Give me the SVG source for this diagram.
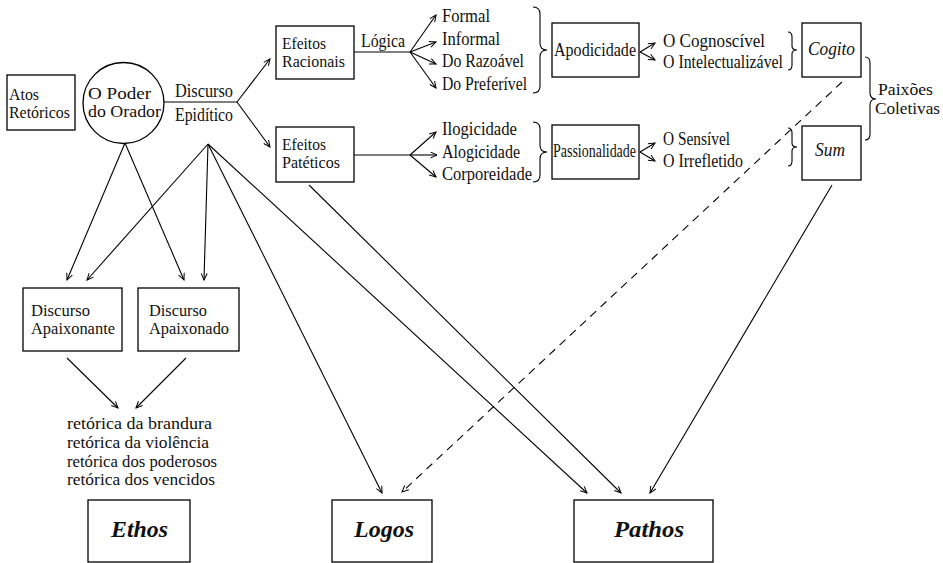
<svg xmlns="http://www.w3.org/2000/svg" width="943" height="563" viewBox="0 0 943 563">
<style>
.box{fill:none;stroke:#000;stroke-width:1.3}
.ln{fill:none;stroke:#000;stroke-width:1.1;marker-end:url(#ah)}
.pl{fill:none;stroke:#000;stroke-width:1.1}
.br{fill:none;stroke:#000;stroke-width:1.1}
.t{font-family:"Liberation Serif","Times New Roman",serif;font-size:18px;fill:#111}
.s{font-size:16px}
.m{font-size:16.5px}
.i{font-style:italic}
.big{font-size:24px;font-weight:bold;font-style:italic}
</style>
<defs>
<marker id="ah" markerUnits="userSpaceOnUse" markerWidth="10" markerHeight="10" refX="7" refY="3.5" orient="auto">
<path d="M0.5,0.5 L7,3.5 L0.5,6.5" fill="none" stroke="#000" stroke-width="1"/>
</marker>
</defs>
<rect width="943" height="563" fill="#fff"/>

<g id="connectors">
<path class="pl" d="M164,102 L237,102"/>
<path class="ln" d="M237,102 L270,59"/>
<path class="ln" d="M237,102 L270,147"/>
<path class="pl" d="M354,52 L410,52"/>
<path class="ln" d="M410,52 L436,15"/>
<path class="ln" d="M410,52 L436,42"/>
<path class="ln" d="M410,52 L436,64"/>
<path class="ln" d="M410,52 L436,88"/>
<path class="pl" d="M354,155 L410,155"/>
<path class="ln" d="M410,155 L436,132"/>
<path class="ln" d="M410,155 L437,155"/>
<path class="ln" d="M410,155 L436,177"/>
<path class="ln" d="M640,52 L655,43"/>
<path class="ln" d="M640,52 L655,60"/>
<path class="ln" d="M640,152 L655,143"/>
<path class="ln" d="M640,152 L655,161"/>
<path class="ln" d="M125,143 L67,280"/>
<path class="ln" d="M125,143 L184,280"/>
<path class="ln" d="M208,144 L87,280"/>
<path class="ln" d="M208,144 L204,280"/>
<path class="ln" d="M208,144 L382,493"/>
<path class="ln" d="M208,144 L587,493"/>
<path class="ln" d="M309,185 L621,493"/>
<path class="ln" d="M832,185 L650,493"/>
<path class="ln" d="M842,82 L402,492" stroke-dasharray="8,6"/>
<path class="ln" d="M67,358 L118,408"/>
<path class="ln" d="M186,358 L136,408"/>
<path class="br" d="M533,7 Q540,7 540,14 L540,43 Q540,50 547,50 Q540,50 540,57 L540,86 Q540,93 533,93"/>
<path class="br" d="M533,122 Q540,122 540,129 L540,145 Q540,152 547,152 Q540,152 540,159 L540,175 Q540,182 533,182"/>
<path class="br" d="M788,32 Q792,32 792,37 L792,46 Q792,50 797,50 Q792,50 792,54 L792,65 Q792,70 788,70"/>
<path class="br" d="M788,128 Q792,128 792,133 L792,143 Q792,147 797,147 Q792,147 792,151 L792,161 Q792,166 788,166"/>
<path class="br" d="M865,57 Q870,57 870,63 L870,93 Q870,99 876,99 Q870,99 870,105 L870,134 Q870,140 865,140"/>
</g>

<g id="atos">
<rect class="box" x="7" y="75" width="68" height="55"/>
<text class="t s" x="9" y="100" textLength="30" lengthAdjust="spacingAndGlyphs">Atos</text>
<text class="t s" x="9" y="118" textLength="61" lengthAdjust="spacingAndGlyphs">Retóricos</text>
</g>
<g id="poder">
<circle cx="123.5" cy="103" r="40.5" fill="none" stroke="#000" stroke-width="1.3"/>
<text class="t s" x="88" y="99" textLength="63" lengthAdjust="spacingAndGlyphs">O Poder</text>
<text class="t s" x="88" y="117" textLength="73" lengthAdjust="spacingAndGlyphs">do Orador</text>
</g>
<g id="epiditico">
<text class="t" x="175" y="97" textLength="58" lengthAdjust="spacingAndGlyphs">Discurso</text>
<text class="t" x="175" y="121" textLength="58" lengthAdjust="spacingAndGlyphs">Epidítico</text>
</g>
<g id="racionais">
<rect class="box" x="276" y="26" width="78" height="53"/>
<text class="t s" x="282" y="49" textLength="44" lengthAdjust="spacingAndGlyphs">Efeitos</text>
<text class="t s" x="282" y="67" textLength="63" lengthAdjust="spacingAndGlyphs">Racionais</text>
</g>
<g id="logica">
<text class="t" x="361" y="47" textLength="44" lengthAdjust="spacingAndGlyphs">Lógica</text>
<text class="t" x="442" y="22" textLength="48" lengthAdjust="spacingAndGlyphs">Formal</text>
<text class="t" x="442" y="45" textLength="58" lengthAdjust="spacingAndGlyphs">Informal</text>
<text class="t" x="442" y="67" textLength="82" lengthAdjust="spacingAndGlyphs">Do Razoável</text>
<text class="t" x="442" y="90" textLength="85" lengthAdjust="spacingAndGlyphs">Do Preferível</text>
</g>
<g id="pateticos">
<rect class="box" x="276" y="127" width="78" height="55"/>
<text class="t s" x="282" y="150" textLength="44" lengthAdjust="spacingAndGlyphs">Efeitos</text>
<text class="t s" x="282" y="168" textLength="58" lengthAdjust="spacingAndGlyphs">Patéticos</text>
</g>
<g id="logicidade">
<text class="t" x="442" y="135" textLength="75" lengthAdjust="spacingAndGlyphs">Ilogicidade</text>
<text class="t" x="442" y="158" textLength="78" lengthAdjust="spacingAndGlyphs">Alogicidade</text>
<text class="t" x="442" y="180" textLength="90" lengthAdjust="spacingAndGlyphs">Corporeidade</text>
</g>
<g id="apodicidade">
<rect class="box" x="552" y="23" width="87" height="54"/>
<text class="t" x="554" y="56" textLength="82" lengthAdjust="spacingAndGlyphs">Apodicidade</text>
</g>
<g id="cognoscivel">
<text class="t" x="663" y="47" textLength="102" lengthAdjust="spacingAndGlyphs">O Cognoscível</text>
<text class="t" x="663" y="68" textLength="120" lengthAdjust="spacingAndGlyphs">O Intelectualizável</text>
</g>
<g id="cogito">
<rect class="box" x="802" y="23" width="59" height="54"/>
<text class="t i" x="808" y="55" textLength="47" lengthAdjust="spacingAndGlyphs">Cogito</text>
</g>
<g id="passionalidade">
<rect class="box" x="552" y="125" width="87" height="54"/>
<text class="t" x="553" y="157" font-size="17" textLength="83" lengthAdjust="spacingAndGlyphs">Passionalidade</text>
</g>
<g id="sensivel">
<text class="t" x="663" y="145" textLength="67" lengthAdjust="spacingAndGlyphs">O Sensível</text>
<text class="t" x="663" y="167" textLength="80" lengthAdjust="spacingAndGlyphs">O Irrefletido</text>
</g>
<g id="sum">
<rect class="box" x="802" y="126" width="59" height="54"/>
<text class="t i" x="815" y="156" textLength="30" lengthAdjust="spacingAndGlyphs">Sum</text>
</g>
<g id="paixoes">
<text class="t m" x="878" y="95" textLength="55" lengthAdjust="spacingAndGlyphs">Paixões</text>
<text class="t m" x="875" y="114" textLength="65" lengthAdjust="spacingAndGlyphs">Coletivas</text>
</g>
<g id="apaixonante">
<rect class="box" x="23" y="288" width="99" height="63"/>
<text class="t s" x="31" y="316" textLength="59" lengthAdjust="spacingAndGlyphs">Discurso</text>
<text class="t s" x="31" y="334" textLength="84" lengthAdjust="spacingAndGlyphs">Apaixonante</text>
</g>
<g id="apaixonado">
<rect class="box" x="138" y="288" width="101" height="63"/>
<text class="t s" x="149" y="316" textLength="58" lengthAdjust="spacingAndGlyphs">Discurso</text>
<text class="t s" x="149" y="334" textLength="80" lengthAdjust="spacingAndGlyphs">Apaixonado</text>
</g>
<g id="retoricas">
<text class="t m" x="67" y="429" textLength="145" lengthAdjust="spacingAndGlyphs">retórica da brandura</text>
<text class="t m" x="67" y="448" textLength="142" lengthAdjust="spacingAndGlyphs">retórica da violência</text>
<text class="t m" x="67" y="466.5" textLength="150" lengthAdjust="spacingAndGlyphs">retórica dos poderosos</text>
<text class="t m" x="67" y="485" textLength="148" lengthAdjust="spacingAndGlyphs">retórica dos vencidos</text>
</g>
<g id="ethos">
<rect class="box" x="88" y="500" width="102" height="62"/>
<text class="t big" x="111" y="537" textLength="57" lengthAdjust="spacingAndGlyphs">Ethos</text>
</g>
<g id="logos">
<rect class="box" x="332" y="500" width="100" height="62"/>
<text class="t big" x="354" y="537" textLength="60" lengthAdjust="spacingAndGlyphs">Logos</text>
</g>
<g id="pathos">
<rect class="box" x="574" y="500" width="139" height="62"/>
<text class="t big" x="614" y="537" textLength="70" lengthAdjust="spacingAndGlyphs">Pathos</text>
</g>
</svg>
